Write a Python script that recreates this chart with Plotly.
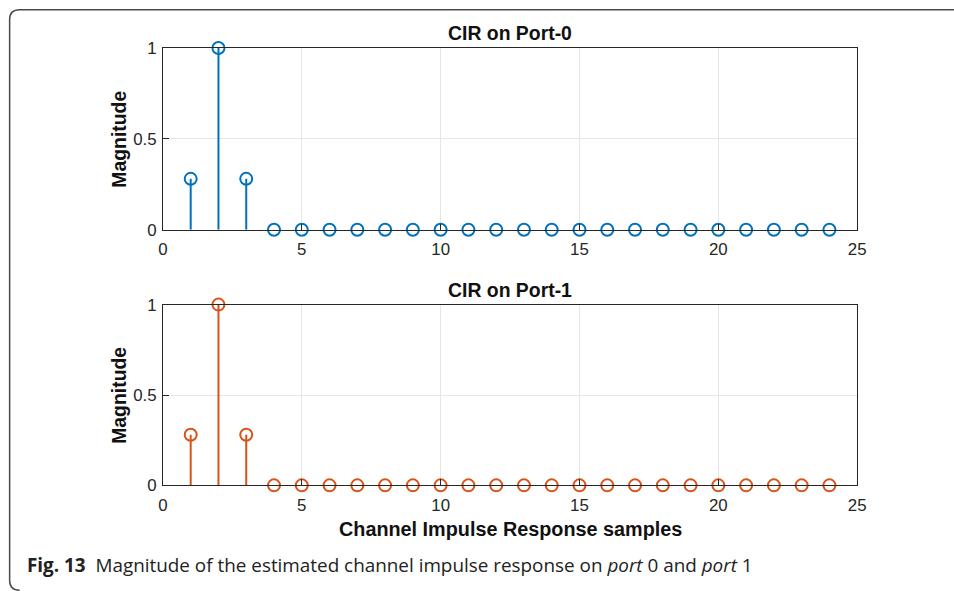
import plotly.graph_objects as go

# figure size in css px; the page shows it with an 8 px body margin and the
# capture is scaled down slightly, so layout positions are given in final
# pixel coordinates and converted below
W, H = 954, 591
OFF = 8
SX, SY = 954 / 970, 591 / 607
X_SHIFT = 3.5
FS = 1 / 0.979  # font compensation for the capture scale

# Channel impulse response magnitudes per port
samples = list(range(1, 25))
cir_port0 = [0.28, 1.0, 0.28] + [0.0] * 21
cir_port1 = [0.28, 1.0, 0.28] + [0.0] * 21

titles = ["CIR on Port-0", "CIR on Port-1"]
colors = ["#0072BD", "#D95319"]
x_ticks = [0, 5, 10, 15, 20, 25]
y_ticks = [0, 0.5, 1]

SANS = "Liberation Sans, Arial, Helvetica, sans-serif"
TICK_FONT = dict(family=SANS, size=16.5 * FS, color="#262626")
LABEL_FONT = dict(family=SANS, size=19 * FS, color="#111111")


def px_x(px):
    """final pixel column -> paper x"""
    return ((px + X_SHIFT) / SX - OFF) / W


def py(px):
    """final pixel row -> paper y"""
    px = px + (px - 47) * 0.0046
    return 1 - (px / SY - OFF) / H


fig = go.Figure()

# plot area boxes in final pixels: (left, right, top, bottom)
boxes = [(162, 855, 47, 229), (162, 855, 304, 485)]
series = [cir_port0, cir_port1]

for i, (vals, col, (l, r, t, b)) in enumerate(zip(series, colors, boxes)):
    xa = "x" if i == 0 else "x2"
    ya = "y" if i == 0 else "y2"
    sx, sy = [], []
    for s, v in zip(samples, vals):
        sx += [s, s, None]
        sy += [0, v, None]
    fig.add_trace(go.Scatter(x=sx, y=sy, mode="lines", line=dict(color=col, width=2),
                             xaxis=xa, yaxis=ya, hoverinfo="skip", showlegend=False,
                             cliponaxis=False))
    fig.add_trace(go.Scatter(x=samples, y=vals, mode="markers",
                             marker=dict(symbol="circle-open", size=12, color=col,
                                         line=dict(width=2, color=col)),
                             xaxis=xa, yaxis=ya, showlegend=False, cliponaxis=False))
    axis_common = dict(showline=True, mirror=True, linecolor="#262626", linewidth=1,
                       ticks="inside", ticklen=6, tickcolor="#262626",
                       showgrid=True, gridcolor="#e6e6e6", gridwidth=1,
                       zeroline=False, tickfont=TICK_FONT)
    xkey = "xaxis" if i == 0 else "xaxis2"
    ykey = "yaxis" if i == 0 else "yaxis2"
    fig.update_layout({
        xkey: dict(domain=[px_x(l), px_x(r)], range=[0, 25], tickvals=x_ticks,
                   anchor=ya, ticklabelstandoff=4, **axis_common),
        ykey: dict(domain=[py(b), py(t)], range=[0, 1], tickvals=y_ticks,
                   ticktext=["0", "0.5", "1"], anchor=xa, ticklabelstandoff=2,
                   **axis_common),
    })
    # subplot title
    fig.add_annotation(text=f"<b>{titles[i]}</b>", x=px_x((l + r) / 2), y=py(t - 15),
                       xref="paper", yref="paper", showarrow=False, font=LABEL_FONT,
                       xanchor="center", yanchor="middle")
    # y axis label
    fig.add_annotation(text="<b>Magnitude</b>", x=px_x(118), y=py((t + b) / 2),
                       xref="paper", yref="paper", showarrow=False, font=LABEL_FONT,
                       textangle=-90, xanchor="center", yanchor="middle")

fig.add_annotation(text="<b>Channel Impulse Response samples</b>", x=px_x(509), y=py(529),
                   xref="paper", yref="paper", showarrow=False,
                   font=dict(family=SANS, size=19.4 * FS, color="#111111"),
                   xanchor="center", yanchor="middle")

# figure caption
fig.add_annotation(
    text="<b>Fig. 13</b>  Magnitude of the estimated channel impulse response on <i>port</i> 0 and <i>port</i> 1",
    x=px_x(24), y=py(565), xref="paper", yref="paper", showarrow=False,
    font=dict(family="Open Sans, Noto Sans, sans-serif", size=18.5 * FS, color="#222222"),
    xanchor="left", yanchor="middle")

# rounded frame around the figure
top, left, bottom = 8.6, 9, 590
frame = (f"M {px_x(960)},{py(top)} L {px_x(left + 10)},{py(top)} "
         f"Q {px_x(left)},{py(top)} {px_x(left)},{py(top + 10)} "
         f"L {px_x(left)},{py(bottom - 10)} Q {px_x(left)},{py(bottom)} {px_x(left + 10)},{py(bottom)}")
fig.add_shape(type="path", path=frame, xref="paper", yref="paper",
              line=dict(color="#4a4a4a", width=1.5))

fig.update_layout(width=W, height=H, autosize=False,
                  margin=dict(l=0, r=0, t=0, b=0),
                  paper_bgcolor="white", plot_bgcolor="white")

fig.write_html("out.html")
